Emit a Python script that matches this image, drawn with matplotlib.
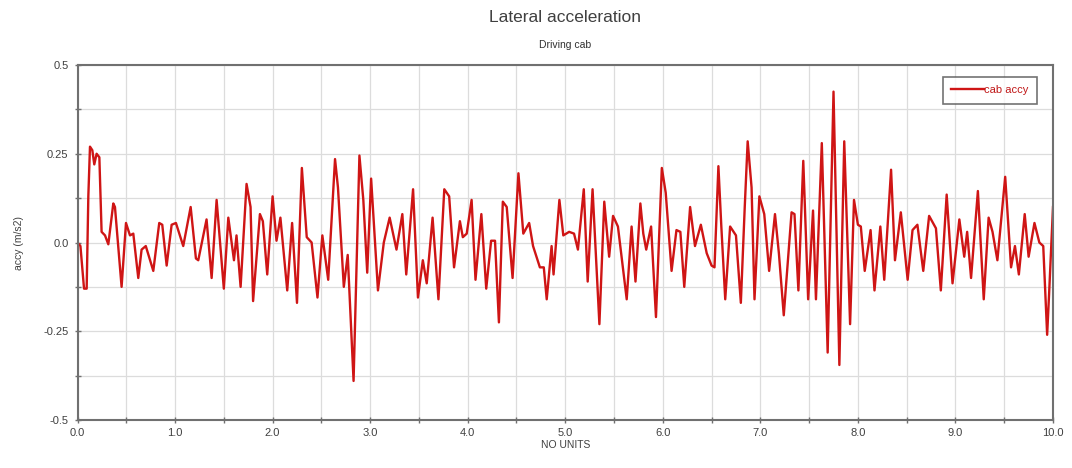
import matplotlib
matplotlib.use("Agg")
import matplotlib.pyplot as plt
from matplotlib import font_manager
from matplotlib.ticker import MultipleLocator, FormatStrFormatter

names = {f.name for f in font_manager.fontManager.ttflist}
fam = 'Liberation Sans Narrow' if 'Liberation Sans Narrow' in names else 'Liberation Sans'
plt.rcParams['font.family'] = [fam, 'DejaVu Sans']

title = "Lateral acceleration"
subtitle = "Driving cab"
x_label = "NO UNITS"
y_label = "accy (m/s2)"
series_name = "cab accy"

time = [0.00, 0.03, 0.067, 0.094, 0.111, 0.128, 0.152, 0.172, 0.196, 0.224,
        0.247, 0.282, 0.316, 0.367, 0.384, 0.452, 0.497, 0.538, 0.572, 0.623,
        0.657, 0.70, 0.777, 0.838, 0.869, 0.914, 0.965, 1.009, 1.084, 1.16,
        1.214, 1.238, 1.323, 1.375, 1.426, 1.50, 1.546, 1.604, 1.63, 1.672,
        1.733, 1.774, 1.80, 1.87,
        1.90, 1.945, 2.00, 2.04, 2.08, 2.15, 2.20, 2.25, 2.30, 2.35,
        2.40, 2.46, 2.51, 2.57, 2.64, 2.67, 2.73, 2.77, 2.83, 2.89,
        2.93, 2.97, 3.01, 3.08, 3.14, 3.20, 3.27, 3.33, 3.37, 3.44,
        3.49, 3.54, 3.58, 3.64, 3.70, 3.76, 3.81, 3.86,
        3.92, 3.95, 3.99, 4.04, 4.08, 4.14, 4.19, 4.24, 4.28, 4.32,
        4.36, 4.40, 4.46, 4.52, 4.57, 4.63, 4.67, 4.74, 4.78, 4.81,
        4.86, 4.88, 4.94, 4.98, 5.04, 5.09, 5.13, 5.19, 5.23, 5.28,
        5.35, 5.40, 5.45, 5.49, 5.54, 5.63, 5.68, 5.72, 5.77,
        5.80, 5.83, 5.88, 5.93, 5.99, 6.03, 6.09, 6.14, 6.18, 6.22,
        6.28, 6.33, 6.39, 6.45, 6.50, 6.53, 6.57, 6.60, 6.64, 6.69,
        6.75, 6.80, 6.84, 6.87, 6.91, 6.94, 6.99, 7.04, 7.09, 7.15,
        7.19, 7.24, 7.32, 7.35, 7.39, 7.44, 7.49, 7.54, 7.57, 7.63,
        7.69, 7.75, 7.81,
        7.86, 7.92, 7.96, 8.00, 8.03, 8.07, 8.13, 8.17, 8.23, 8.27,
        8.34, 8.38, 8.44, 8.51, 8.56, 8.61, 8.67, 8.73, 8.80, 8.85,
        8.91, 8.97, 9.04,
        9.09, 9.12, 9.16, 9.23, 9.29, 9.34, 9.38, 9.43, 9.51, 9.57,
        9.61, 9.65, 9.71, 9.75, 9.81, 9.86, 9.90, 9.94, 9.96, 10.0]

accy = [0.00, -0.01, -0.13, -0.13, 0.13, 0.27, 0.26, 0.22, 0.25, 0.24,
        0.03, 0.02, -0.005, 0.11, 0.10, -0.125, 0.055, 0.02, 0.025, -0.10,
        -0.02, -0.01, -0.08, 0.055, 0.05, -0.065, 0.05, 0.055, -0.01, 0.10,
        -0.045, -0.05, 0.065, -0.10, 0.12, -0.13, 0.07, -0.05, 0.02, -0.125,
        0.165, 0.10, -0.165, 0.08,
        0.06, -0.09, 0.13, 0.005, 0.07, -0.135, 0.055, -0.17, 0.21, 0.015,
        0.0, -0.155, 0.02, -0.105, 0.235, 0.155, -0.125, -0.035, -0.39, 0.245,
        0.12, -0.085, 0.18, -0.135, 0.0, 0.07, -0.02, 0.08, -0.09, 0.15,
        -0.155, -0.05, -0.115, 0.07, -0.16, 0.15, 0.13, -0.07,
        0.06, 0.015, 0.025, 0.12, -0.105, 0.08, -0.13, 0.005, 0.005, -0.225,
        0.115, 0.10, -0.10, 0.195, 0.025, 0.055, -0.01, -0.07, -0.07, -0.16,
        -0.01, -0.09, 0.12, 0.02, 0.03, 0.025, -0.02, 0.15, -0.11, 0.15,
        -0.23, 0.115, -0.04, 0.075, 0.045, -0.16, 0.045, -0.11, 0.11,
        0.025, -0.02, 0.045, -0.21, 0.21, 0.14, -0.08, 0.035, 0.03, -0.125,
        0.10, -0.01, 0.05, -0.03, -0.065, -0.07, 0.215, 0.045, -0.16, 0.045,
        0.02, -0.17, 0.10, 0.285, 0.155, -0.16, 0.13, 0.08, -0.08, 0.08,
        -0.03, -0.205, 0.085, 0.08, -0.135, 0.23, -0.16, 0.09, -0.16, 0.28,
        -0.31, 0.425, -0.345,
        0.285, -0.23, 0.12, 0.05, 0.045, -0.08, 0.035, -0.135, 0.045, -0.105,
        0.205, -0.05, 0.085, -0.105, 0.035, 0.05, -0.08, 0.075, 0.04, -0.135,
        0.135, -0.115, 0.065,
        -0.04, 0.03, -0.10, 0.145, -0.16, 0.07, 0.03, -0.05, 0.185, -0.07,
        -0.01, -0.09, 0.08, -0.04, 0.055, 0.0, -0.01, -0.26, -0.145, 0.10]

x_range = (0.0, 10.0)
y_range = (-0.5, 0.5)
y_tick_values = [-0.5, -0.25, 0.0, 0.25, 0.5]
y_tick_labels = ['-0.5', '-0.25', '0.0', '0.25', '0.5']

fig = plt.figure(figsize=(10.72, 4.68), dpi=100)
ax = fig.add_axes([77.5 / 1072, 1 - 420 / 468, (1053 - 77.5) / 1072, (420 - 65) / 468])

ax.plot(time, accy, color='#cf1515', lw=1.7, label=series_name)

ax.set_xlim(*x_range)
ax.set_ylim(*y_range)
ax.xaxis.set_major_locator(MultipleLocator(1.0))
ax.xaxis.set_minor_locator(MultipleLocator(0.5))
ax.xaxis.set_major_formatter(FormatStrFormatter('%.1f'))
ax.set_yticks(y_tick_values)
ax.set_yticklabels(y_tick_labels)
ax.yaxis.set_minor_locator(MultipleLocator(0.125))

ax.grid(True, which='both', color='#dcdcdc', lw=0.9)
ax.set_axisbelow(True)
for s in ax.spines.values():
    s.set_color('#707070')
    s.set_linewidth(1.5)
ax.tick_params(which='both', direction='inout', length=5, width=1, color='#707070',
               labelsize=8, labelcolor='#404040', pad=3)
ax.tick_params(axis='y', pad=4)

ax.set_xlabel(x_label, fontsize=7.5, color='#404040', labelpad=2)
ax.set_ylabel(y_label, fontsize=7.5, color='#404040', labelpad=14)

cx = 0.5 * (77.5 + 1053) / 1072
fig.text(cx, 1 - 18 / 468, title, ha='center', va='center', fontsize=12.5, color='#404040')
fig.text(cx, 1 - 45 / 468, subtitle, ha='center', va='center', fontsize=7.5, color='#303030')

leg = ax.legend(loc='upper right', bbox_to_anchor=((1037 - 77.5) / (1053 - 77.5), (420 - 77) / 355),
                fontsize=8, frameon=True, fancybox=False, handlelength=3.0,
                handletextpad=0.0, borderpad=0.75, borderaxespad=0)
leg.get_frame().set_edgecolor('#505050')
leg.get_frame().set_linewidth(1.2)
for txt in leg.get_texts():
    txt.set_color('#c01818')

fig.savefig('out.png', dpi=100)
